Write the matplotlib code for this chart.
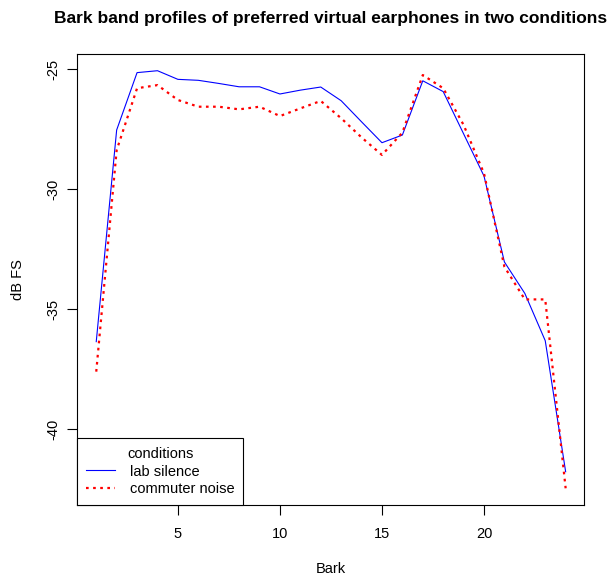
import numpy as np
import matplotlib
matplotlib.use("Agg")
import matplotlib.pyplot as plt

plt.rcParams['font.family'] = ['Liberation Sans', 'DejaVu Sans']

bark = np.arange(1, 25)
# lab silence
lab = [-36.36, -27.54, -25.15, -25.07, -25.43, -25.47, -25.60, -25.74, -25.74, -26.04,
       -25.88, -25.75, -26.32, -27.20, -28.07, -27.75, -25.49, -25.94, -27.70, -29.46,
       -33.04, -34.35, -36.32, -41.78]
# commuter noise
commuter = [-37.61, -28.38, -25.80, -25.67, -26.29, -26.57, -26.57, -26.68, -26.57, -26.96,
            -26.64, -26.33, -27.05, -27.85, -28.58, -27.65, -25.25, -25.80, -27.33, -29.35,
            -33.24, -34.60, -34.60, -42.47]

fig = plt.figure(figsize=(6.11, 5.77), dpi=100)
ax = fig.add_axes([0.1268, 0.1248, 0.8297, 0.7816])

ax.plot(bark, lab, color='blue', lw=0.8, label='lab silence')
ax.plot(bark, commuter, color='red', lw=1.6, linestyle=(0, (1.2, 2.0)), label='commuter noise')

ymin = min(min(lab), min(commuter))
ymax = max(max(lab), max(commuter))
pad = 0.04 * (ymax - ymin)
ax.set_ylim(ymin - pad, ymax + pad)
ax.set_xlim(1 - 0.04 * 23, 24 + 0.04 * 23)

ax.set_xticks([5, 10, 15, 20])
ax.set_yticks([-25, -30, -35, -40])
ax.set_yticklabels(['-25', '-30', '-35', '-40'], rotation=90, va='center')
ax.tick_params(direction='out', length=7, width=0.8, labelsize=10.5)
ax.tick_params(axis='x', pad=9)
ax.tick_params(axis='y', pad=5)

for s in ax.spines.values():
    s.set_linewidth(0.8)

ax.set_xlabel('Bark', fontsize=10.5, labelpad=15)
ax.set_ylabel('dB FS', fontsize=10.5, labelpad=16)
ax.set_title('Bark band profiles of preferred virtual earphones in two conditions',
             fontsize=12.5, fontweight='bold', pad=22)

leg = ax.legend(title='conditions', loc='lower left', borderaxespad=0, fontsize=10.5,
                title_fontsize=10.5, fancybox=False, framealpha=1, edgecolor='black',
                handlelength=2.0, handletextpad=1.0, borderpad=0.6, labelspacing=0.25)
leg.get_frame().set_linewidth(0.8)

plt.savefig('out.png', dpi=100)
